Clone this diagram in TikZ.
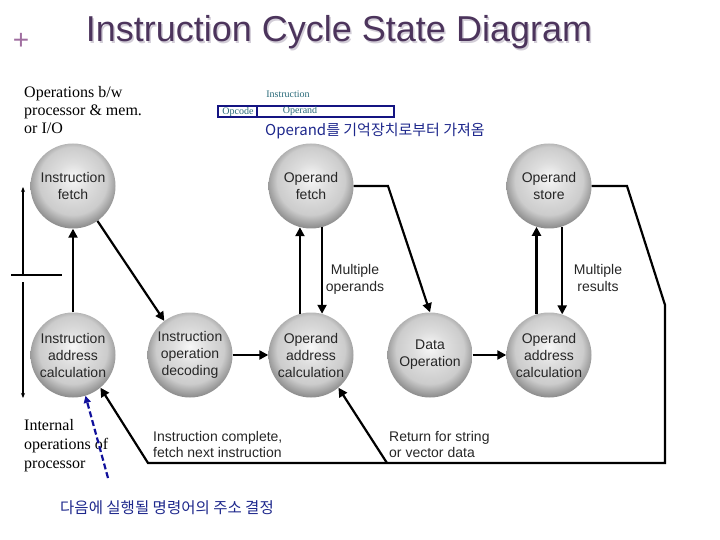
\documentclass[tikz,border=0pt]{standalone}
\usepackage{fontspec}
\setmainfont{Liberation Sans}
\newfontfamily\seriffam{Liberation Serif}
\newfontfamily\krfam{Noto Sans CJK KR}
\usetikzlibrary{arrows.meta}
\definecolor{titlec}{RGB}{76,52,92}
\definecolor{titleshadow}{RGB}{210,205,215}
\definecolor{plusc}{RGB}{160,110,160}
\definecolor{navy}{RGB}{20,20,130}
\definecolor{krblue}{RGB}{30,40,140}
\definecolor{tealc}{RGB}{40,105,120}
\definecolor{ballhi}{gray}{0.97}
\definecolor{ballmid}{gray}{0.80}
\definecolor{ballrim}{gray}{0.55}
\pgfdeclareradialshading{ballgray}{\pgfpoint{0bp}{5bp}}{color(0bp)=(ballhi); color(10bp)=(ballmid!60!ballhi); color(20bp)=(ballmid); color(27bp)=(ballrim); color(50bp)=(ballrim)}
\tikzset{
  state/.style={circle, minimum size=85pt, inner sep=0pt, shading=ballgray, align=center,
    font=\fontsize{14}{17}\selectfont, text=black!85},
  conn/.style={line width=2.2pt, draw=black},
  arr/.style={-{Triangle[length=9pt,width=9pt]}},
  thinarr/.style={line width=1.1pt, -{Stealth[length=5pt,width=4pt]}},
  serifline/.style={anchor=base west, inner sep=0pt, font=\seriffam\fontsize{16}{18}\selectfont},
  lbl/.style={anchor=base, inner sep=0pt, font=\fontsize{14}{17}\selectfont, text=black!85},
  small/.style={anchor=base, inner sep=0pt, text=tealc, font=\seriffam\fontsize{10}{11}\selectfont},
}
\begin{document}
\begin{tikzpicture}[x=1pt,y=-1pt]
\useasboundingbox (0,0) rectangle (720,540);
% title
\node[anchor=base, text=titleshadow, font=\fontsize{36}{40}\selectfont, inner sep=0pt] (titlesh) at (340.5,43.5) {Instruction Cycle State Diagram};
\node[anchor=base, text=titlec, font=\fontsize{36}{40}\selectfont, inner sep=0pt] (title) at (339,42) {Instruction Cycle State Diagram};
\node[text=plusc, font=\fontsize{28}{28}\selectfont, inner sep=0pt] (plus) at (21,41) {+};
% left texts
\node[serifline] (t1) at (24,98) {Operations b/w};
\node[serifline] (t2) at (24,116) {processor \& mem.};
\node[serifline] (t3) at (24,134) {or I/O};
\node[serifline] (t4) at (24,430) {Internal};
\node[serifline] (t5) at (24,449) {operations of};
\node[serifline] (t6) at (24,468) {processor};
% instruction format box
\node[small] (instr) at (288,98) {Instruction};
\draw[navy, line width=2pt] (218,106) rectangle (394,117);
\draw[navy, line width=2pt] (257,106) -- (257,117);
\node[small] (opc) at (238,115) {Opcode};
\node[small] (opd) at (300,114) {Operand};
\node[anchor=west, inner sep=0pt, text=krblue, font=\krfam\fontsize{15}{16}\selectfont] (kr1) at (265,131) {Operand를 기억장치로부터 가져옴};
% states
\node[state] (if) at (73,186) {Instruction\\fetch};
\node[state] (of) at (311,186) {Operand\\fetch};
\node[state] (os) at (549,186) {Operand\\store};
\node[state] (iac) at (73,355) {Instruction\\address\\calculation};
\node[state] (iod) at (190,355) {Instruction\\operation\\decoding};
\node[state] (oac1) at (311,355) {Operand\\address\\calculation};
\node[state] (do) at (430,355) {Data\\Operation};
\node[state] (oac2) at (549,355) {Operand\\address\\calculation};
% connectors
\draw[conn,arr] (iac.north) -- (if.south);
\draw[conn,arr] (if.305) -- (iod.127);
\draw[conn,arr] (iod.east) -- (oac1.west);
\draw[conn,arr] (oac1.105) -- (of.255);
\draw[conn,arr] (of.285) -- (oac1.75);
\coordinate (ofk) at (388,186);
\draw[conn,arr] (of.east) -- (ofk) -- (do.north);
\draw[conn,arr] (do.east) -- (oac2.west);
\draw[conn,arr] (oac2.107) -- (os.253);
\draw[conn,arr] (os.288) -- (oac2.72);
\coordinate (osk) at (627,186);
\coordinate (osd) at (665,305);
\coordinate (br) at (665,463);
\coordinate (bl) at (148,463);
\coordinate (bm) at (387,463);
\draw[conn,arr] (os.east) -- (osk) -- (osd) -- (br) -- (bl) -- (iac.-50);
\draw[conn,arr] (bm) -- (oac1.-50);
\node[lbl] (mo1) at (355,274) {Multiple};
\node[lbl] (mo2) at (355,291) {operands};
\node[lbl] (mr1) at (598,274) {Multiple};
\node[lbl] (mr2) at (598,291) {results};
\node[lbl, anchor=base west] (ic1) at (153,441) {Instruction complete,};
\node[lbl, anchor=base west] (ic2) at (153,457) {fetch next instruction};
\node[lbl, anchor=base west] (rs1) at (389,441) {Return for string};
\node[lbl, anchor=base west] (rs2) at (389,457) {or vector data};
% dashed blue
\coordinate (dstart) at (108,478);
\draw[navy!80!blue, line width=2.2pt, dash pattern=on 6pt off 3pt, -{Triangle[length=7pt,width=7pt]}] (dstart) -- (iac.-73);
\node[anchor=base, inner sep=0pt, text=krblue, font=\krfam\fontsize{15.5}{16}\selectfont] (kr2) at (167,513) {다음에 실행될 명령어의 주소 결정};
% left markers
\coordinate (lm1) at (23,275);
\coordinate (lm0) at (23,187);
\coordinate (lh1) at (11,275);
\coordinate (lh2) at (62,275);
\coordinate (lm2) at (23,282);
\coordinate (lm3) at (23,398);
\draw[thinarr] (lm1) -- (lm0);
\draw[line width=1.1pt] (lh1) -- (lh2);
\draw[thinarr] (lm2) -- (lm3);
\end{tikzpicture}
\end{document}
